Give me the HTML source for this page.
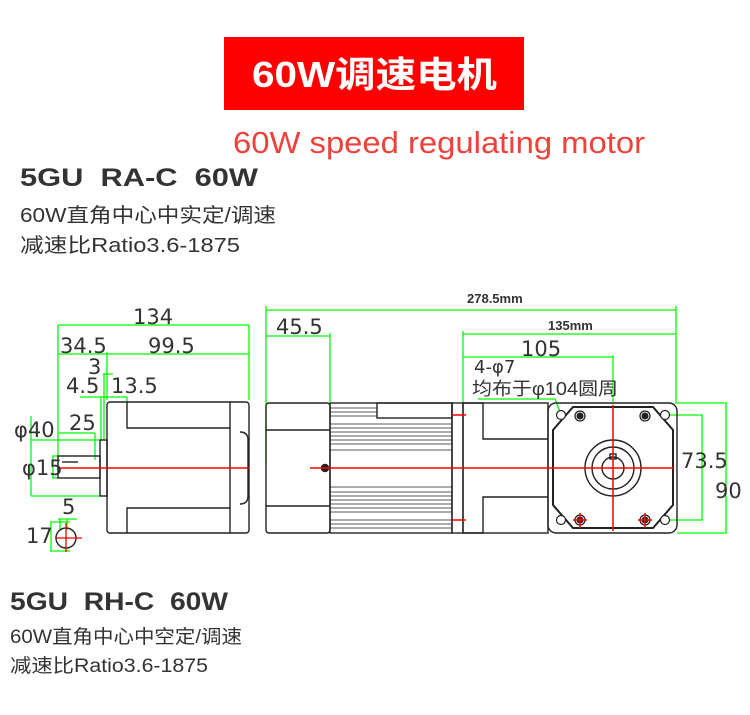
<!DOCTYPE html>
<html><head><meta charset="utf-8"><style>
html,body{margin:0;padding:0;background:#fff;width:750px;height:715px;overflow:hidden}
svg{display:block}
</style></head><body>
<svg width="750" height="715" viewBox="0 0 750 715" xmlns="http://www.w3.org/2000/svg" font-family="Liberation Sans, Noto Sans CJK SC, sans-serif">
<rect x="224" y="37" width="300" height="73" fill="#fe0000"/>
<text x="252" y="87" font-size="36" font-weight="bold" fill="#fff" textLength="245" lengthAdjust="spacingAndGlyphs" font-family="Liberation Sans, Noto Sans CJK SC, sans-serif">60W调速电机</text>
<text x="233" y="153" font-size="31" fill="#f0413a" textLength="412" lengthAdjust="spacingAndGlyphs">60W speed regulating motor</text>
<text x="20" y="186" font-size="25" font-weight="bold" fill="#333" textLength="238" lengthAdjust="spacingAndGlyphs">5GU&#160;&#160;RA-C&#160;&#160;60W</text>
<text x="20" y="222" font-size="20" fill="#333" textLength="256" lengthAdjust="spacingAndGlyphs">60W直角中心中实定/调速</text>
<text x="20" y="252" font-size="20" fill="#333" textLength="220" lengthAdjust="spacingAndGlyphs">减速比Ratio3.6-1875</text>
<text x="10" y="610" font-size="25" font-weight="bold" fill="#333" textLength="218" lengthAdjust="spacingAndGlyphs">5GU&#160;&#160;RH-C&#160;&#160;60W</text>
<text x="10" y="643" font-size="19" fill="#333" textLength="232" lengthAdjust="spacingAndGlyphs">60W直角中心中空定/调速</text>
<text x="10" y="672" font-size="19" fill="#333" textLength="198" lengthAdjust="spacingAndGlyphs">减速比Ratio3.6-1875</text>

<!-- LEFT VIEW -->
<g stroke="#0f0" stroke-width="1.3" fill="none">
<line x1="58" y1="325" x2="249" y2="325"/><line x1="58" y1="354" x2="249" y2="354"/>
<line x1="58" y1="325" x2="58" y2="470"/><line x1="249" y1="325" x2="249" y2="400"/>
<line x1="107" y1="352" x2="107" y2="400"/>
<line x1="103" y1="374" x2="113" y2="374"/><line x1="104" y1="374" x2="104" y2="440"/>
<line x1="80" y1="397" x2="127" y2="397"/><line x1="101" y1="397" x2="101" y2="440"/>
<line x1="127" y1="397" x2="127" y2="402"/>
<line x1="58" y1="433" x2="95" y2="433"/><line x1="95" y1="433" x2="95" y2="460"/>
<line x1="31" y1="440" x2="103" y2="440"/><line x1="31" y1="496" x2="103" y2="496"/><line x1="31" y1="416" x2="31" y2="496"/>
<line x1="52" y1="456" x2="58" y2="456"/><line x1="52" y1="478" x2="58" y2="478"/><line x1="53" y1="456" x2="53" y2="478"/>
<line x1="50" y1="522" x2="70" y2="522"/><line x1="50" y1="551" x2="70" y2="551"/><line x1="51" y1="522" x2="51" y2="551"/>
<line x1="60" y1="519" x2="60" y2="530"/><line x1="67" y1="519" x2="67" y2="530"/><line x1="58" y1="519" x2="77" y2="519"/>
</g>
<g stroke="#222" stroke-width="1.4" fill="none">
<rect x="107" y="402" width="142" height="131" rx="3"/>
<path d="M127 402 V428 H230 V402 M127 533 V508 H230 V533 M230 428 V508"/>
<path d="M240 432 Q248 432 248 440 V496 Q248 504 240 504"/>
<rect x="100" y="440" width="7" height="56"/>
<rect x="58" y="456" width="42" height="22"/>
<line x1="62" y1="462" x2="78" y2="462"/>
<circle cx="66" cy="538" r="10"/>
</g>
<line x1="58" y1="468" x2="249" y2="468" stroke="#f00" stroke-width="1.5"/>
<line x1="55" y1="538" x2="82" y2="538" stroke="#f00" stroke-width="1.3"/>
<line x1="66" y1="523" x2="66" y2="552" stroke="#f00" stroke-width="1.3"/>
<g font-size="21" fill="#333" font-family="DejaVu Sans, sans-serif">
<text x="133" y="324">134</text>
<text x="60" y="353">34.5</text><text x="148" y="353">99.5</text>
<text x="88" y="374">3</text>
<text x="66" y="393">4.5</text><text x="111" y="393">13.5</text>
<text x="14" y="437">φ40</text><text x="69" y="430">25</text>
<text x="22" y="475">φ15</text>
<text x="62" y="514">5</text><text x="26" y="543">17</text>
</g>

<!-- RIGHT VIEW -->
<g stroke="#0f0" stroke-width="1.3" fill="none">
<line x1="266" y1="310" x2="676" y2="310"/><line x1="266" y1="306" x2="266" y2="465"/><line x1="676" y1="306" x2="676" y2="404"/>
<line x1="266" y1="336" x2="330" y2="336"/><line x1="330" y1="333" x2="330" y2="402"/>
<line x1="463" y1="334" x2="676" y2="334"/><line x1="463" y1="331" x2="463" y2="402"/>
<line x1="463" y1="357" x2="613" y2="357"/><line x1="613" y1="355" x2="613" y2="402"/>
<path d="M478 399 H555 L560 412"/>
<line x1="665" y1="415" x2="703" y2="415"/><line x1="665" y1="520" x2="703" y2="520"/><line x1="702" y1="415" x2="702" y2="520"/>
<line x1="677" y1="403" x2="727" y2="403"/><line x1="677" y1="533" x2="727" y2="533"/><line x1="726" y1="403" x2="726" y2="533"/>
</g>
<g stroke="#222" stroke-width="1.4" fill="none">
<rect x="266" y="403" width="64" height="130" rx="3"/>
<line x1="266" y1="430" x2="330" y2="430"/><line x1="266" y1="506" x2="330" y2="506"/>
<rect x="330" y="403" width="122" height="130"/>
<rect x="377" y="403" width="75" height="15"/>
<rect x="452" y="403" width="11" height="130"/>
<rect x="463" y="403" width="85" height="130"/>
<path d="M463 403 H483 V439 H548 M463 533 H483 V497 H548"/>
<rect x="548" y="403" width="129" height="130" rx="8"/>
<path d="M573 407 H653 L673 430 V505 L653 528 H573 L553 505 V430 Z" stroke-width="2"/>
<circle cx="613" cy="468" r="28"/><circle cx="613" cy="468" r="21"/><circle cx="613" cy="468" r="11"/>
<rect x="610" y="454" width="6" height="5"/>
<circle cx="325" cy="468" r="3.5" fill="#222"/>
</g>
<g stroke="#222" stroke-width="0.8">
<line x1="330" y1="408" x2="377" y2="408"/><line x1="330" y1="412" x2="377" y2="412"/><line x1="330" y1="416" x2="377" y2="416"/>
<line x1="330" y1="424" x2="452" y2="424"/><line x1="330" y1="428" x2="452" y2="428"/><line x1="330" y1="432" x2="452" y2="432"/><line x1="330" y1="436" x2="452" y2="436"/><line x1="330" y1="440" x2="452" y2="440"/><line x1="330" y1="444" x2="452" y2="444"/><line x1="330" y1="450" x2="452" y2="450"/>
<line x1="330" y1="487" x2="452" y2="487"/><line x1="330" y1="492" x2="452" y2="492"/><line x1="330" y1="496" x2="452" y2="496"/><line x1="330" y1="500" x2="452" y2="500"/><line x1="330" y1="504" x2="452" y2="504"/><line x1="330" y1="508" x2="452" y2="508"/><line x1="330" y1="512" x2="452" y2="512"/>
<line x1="330" y1="520" x2="452" y2="520"/><line x1="330" y1="524" x2="452" y2="524"/><line x1="330" y1="528" x2="452" y2="528"/>
</g>
<g fill="#222" stroke="#222">
<circle cx="580" cy="416" r="5" fill="#fff" stroke-width="1.3"/><circle cx="580" cy="416" r="3"/>
<circle cx="645" cy="416" r="5" fill="#fff" stroke-width="1.3"/><circle cx="645" cy="416" r="3"/>
<circle cx="580" cy="520" r="5" fill="#fff" stroke-width="1.3"/><circle cx="580" cy="520" r="3"/>
<circle cx="645" cy="520" r="5" fill="#fff" stroke-width="1.3"/><circle cx="645" cy="520" r="3"/>
</g>
<g fill="#fff" stroke="#222" stroke-width="1.2">
<circle cx="561" cy="415" r="4.5"/><circle cx="665" cy="415" r="4.5"/><circle cx="561" cy="520" r="4.5"/><circle cx="665" cy="520" r="4.5"/>
</g>
<g stroke="#f00" stroke-width="1.5">
<line x1="310" y1="468" x2="674" y2="468"/><line x1="613" y1="405" x2="613" y2="531"/>
<line x1="452" y1="415" x2="466" y2="415"/><line x1="452" y1="520" x2="466" y2="520"/>
<line x1="573" y1="520" x2="587" y2="520"/><line x1="580" y1="513" x2="580" y2="528"/>
<line x1="638" y1="520" x2="652" y2="520"/><line x1="645" y1="513" x2="645" y2="528"/>
</g>
<g fill="#333">
<text x="467" y="303" font-size="13" font-weight="bold">278.5mm</text>
<text x="548" y="330" font-size="13" font-weight="bold">135mm</text>
<g font-family="DejaVu Sans, sans-serif">
<text x="276" y="334" font-size="21">45.5</text>
<text x="521" y="356" font-size="21">105</text>
<text x="474" y="373" font-size="18">4-φ7</text>
<text x="681" y="468" font-size="21">73.5</text>
<text x="715" y="498" font-size="21">90</text>
</g>
<text x="472" y="395" font-size="18" textLength="146" lengthAdjust="spacingAndGlyphs" font-family="Liberation Sans, Noto Sans CJK SC, sans-serif">均布于φ104圆周</text>
</g>
</svg>
</body></html>
